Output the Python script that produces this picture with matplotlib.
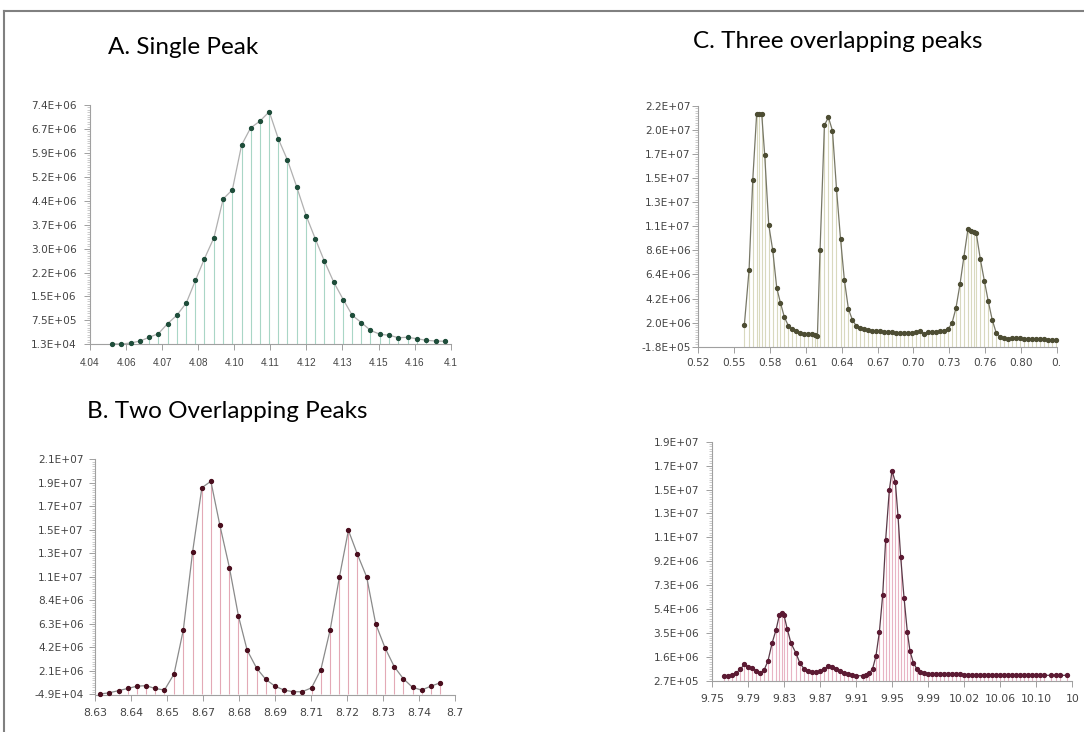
import matplotlib
matplotlib.use("Agg")
import matplotlib.pyplot as plt
from matplotlib.ticker import AutoMinorLocator
import numpy as np

W, H = 1084, 732

# ---- A. Single Peak ----
a_x = [4.0498, 4.0533, 4.0568, 4.0603, 4.0636, 4.0670, 4.0704, 4.0738, 4.0773, 4.0807,
       4.0840, 4.0875, 4.0909, 4.0943, 4.0977, 4.1010, 4.1045, 4.1079, 4.1113, 4.1146,
       4.1180, 4.1215, 4.1249, 4.1282, 4.1317, 4.1352, 4.1385, 4.1419, 4.1452, 4.1487,
       4.1522, 4.1555, 4.1589, 4.1623, 4.1658, 4.1693, 4.1726]
a_y = [0.032, 0.022, 0.053, 0.115, 0.229, 0.340, 0.649, 0.908, 1.288, 1.989,
       2.655, 3.304, 4.498, 4.785, 6.165, 6.690, 6.906, 7.193, 6.341, 5.702,
       4.878, 3.983, 3.264, 2.584, 1.927, 1.390, 0.908, 0.680, 0.445, 0.322,
       0.291, 0.217, 0.229, 0.186, 0.136, 0.115, 0.106]
a_xlab = ["4.04", "4.06", "4.07", "4.08", "4.10", "4.11", "4.12", "4.13", "4.15", "4.16", "4.1"]
a_ylab = ["1.3E+04", "7.5E+05", "1.5E+06", "2.2E+06", "3.0E+06", "3.7E+06",
          "4.4E+06", "5.2E+06", "5.9E+06", "6.7E+06", "7.4E+06"]

# ---- B. Two Overlapping Peaks ----
b_x = [8.6308, 8.6340, 8.6374, 8.6407, 8.6439, 8.6471, 8.6503, 8.6537, 8.6571, 8.6604,
       8.6637, 8.6670, 8.6702, 8.6734, 8.6768, 8.6800, 8.6831, 8.6865, 8.6897, 8.6930,
       8.6962, 8.6994, 8.7026, 8.7060, 8.7093, 8.7126, 8.7159, 8.7191, 8.7223, 8.7256,
       8.7288, 8.7321, 8.7354, 8.7386, 8.7419, 8.7451, 8.7484, 8.7517]
b_y = [0.0, 0.1, 0.3, 0.5, 0.7, 0.75, 0.5, 0.35, 1.80, 5.77,
       12.80, 18.59, 19.17, 15.20, 11.38, 7.03, 3.94, 2.31, 1.32, 0.7,
       0.35, 0.2, 0.2, 0.55, 2.19, 5.77, 10.54, 14.75, 12.59, 10.54,
       6.33, 4.17, 2.46, 1.38, 0.6, 0.35, 0.7, 1.0]
b_xlab = ["8.63", "8.64", "8.65", "8.67", "8.68", "8.69", "8.71", "8.72", "8.73", "8.74", "8.7"]
b_ylab = ["-4.9E+04", "2.1E+06", "4.2E+06", "6.3E+06", "8.4E+06", "1.1E+07",
          "1.3E+07", "1.5E+07", "1.7E+07", "1.9E+07", "2.1E+07"]

# ---- C. Three overlapping peaks ----
c_x = [0.5551, 0.5592, 0.5624, 0.5658, 0.5679, 0.5702, 0.5728, 0.5763, 0.5798, 0.5833,
       0.5865, 0.5899, 0.5934, 0.5966, 0.6001, 0.6036, 0.6071, 0.6106, 0.6141, 0.6170,
       0.6187, 0.6210, 0.6248, 0.6283, 0.6318, 0.6353, 0.6388, 0.6422, 0.6457, 0.6492,
       0.6524, 0.6559, 0.6594, 0.6629, 0.6663, 0.6698, 0.6733, 0.6768, 0.6803, 0.6838,
       0.6873, 0.6908, 0.6942, 0.6977, 0.7012, 0.7047, 0.7082, 0.7117, 0.7152, 0.7186,
       0.7221, 0.7256, 0.7291, 0.7323, 0.7358, 0.7393, 0.7428, 0.7462, 0.7497, 0.7523,
       0.7547, 0.7570, 0.7605, 0.7640, 0.7674, 0.7709, 0.7744, 0.7779, 0.7814, 0.7849,
       0.7884, 0.7918, 0.7953, 0.7988, 0.8023, 0.8058, 0.8093, 0.8128, 0.8162, 0.8197,
       0.8232, 0.8267]
c_y = [1.83, 6.83, 15.05, 21.09, 21.09, 21.09, 17.34, 10.97, 8.63, 5.18,
       3.84, 2.53, 1.74, 1.40, 1.22, 1.10, 1.01, 0.98, 0.95, 0.89,
       0.83, 8.66, 20.08, 20.78, 19.56, 14.26, 9.69, 5.88, 3.26, 2.26,
       1.74, 1.56, 1.47, 1.34, 1.28, 1.25, 1.22, 1.19, 1.16, 1.13,
       1.10, 1.10, 1.10, 1.10, 1.10, 1.13, 1.22, 1.01, 1.16, 1.19,
       1.19, 1.22, 1.28, 1.43, 1.95, 3.35, 5.52, 8.02, 10.54, 10.42,
       10.27, 10.18, 7.83, 5.85, 3.99, 2.26, 1.07, 0.73, 0.61, 0.55,
       0.61, 0.58, 0.58, 0.55, 0.55, 0.52, 0.52, 0.49, 0.52, 0.46,
       0.43, 0.43]
c_xlab = ["0.52", "0.55", "0.58", "0.61", "0.64", "0.67", "0.70", "0.73", "0.76", "0.80", "0."]
c_ylab = ["-1.8E+05", "2.0E+06", "4.2E+06", "6.4E+06", "8.6E+06", "1.1E+07",
          "1.3E+07", "1.5E+07", "1.7E+07", "2.0E+07", "2.2E+07"]

# ---- D. (no title) ----
d_x = [9.7645, 9.7689, 9.7732, 9.7775, 9.7819, 9.7862, 9.7905, 9.7949, 9.7992, 9.8032,
       9.8075, 9.8118, 9.8162, 9.8205, 9.8241, 9.8266, 9.8292, 9.8328, 9.8368, 9.8422,
       9.8465, 9.8508, 9.8555, 9.8599, 9.8642, 9.8685, 9.8729, 9.8772, 9.8815, 9.8859,
       9.8902, 9.8945, 9.8989, 9.9032, 9.9075, 9.9144, 9.9180, 9.9216, 9.9252, 9.9288,
       9.9325, 9.9361, 9.9393, 9.9433, 9.9462, 9.9498, 9.9527, 9.9556, 9.9592, 9.9628,
       9.9657, 9.9693, 9.9729, 9.9765, 9.9808, 9.9852, 9.9895, 9.9938, 9.9982, 10.0025,
       10.0068, 10.0112, 10.0155, 10.0198, 10.0242, 10.0285, 10.0328, 10.0372, 10.0415, 10.0458,
       10.0502, 10.0545, 10.0588, 10.0631, 10.0675, 10.0718, 10.0761, 10.0805, 10.0848, 10.0891,
       10.0935, 10.0978, 10.1021, 10.1065, 10.1108, 10.1184, 10.1239, 10.1282, 10.1362]
d_y = [0.15, 0.15, 0.23, 0.39, 0.66, 1.05, 0.82, 0.74, 0.55, 0.37,
       0.58, 1.32, 2.72, 3.78, 4.94, 5.16, 4.94, 3.83, 2.72, 1.93,
       1.13, 0.71, 0.52, 0.44, 0.42, 0.50, 0.68, 0.92, 0.87, 0.71,
       0.50, 0.37, 0.29, 0.21, 0.15, 0.15, 0.18, 0.34, 0.71, 1.72,
       3.62, 6.56, 10.93, 14.90, 16.43, 15.53, 12.80, 9.55, 6.35, 3.62,
       2.09, 1.19, 0.71, 0.44, 0.34, 0.31, 0.31, 0.29, 0.29, 0.29,
       0.26, 0.26, 0.26, 0.26, 0.23, 0.23, 0.23, 0.23, 0.23, 0.21,
       0.21, 0.21, 0.21, 0.21, 0.21, 0.21, 0.18, 0.18, 0.18, 0.18,
       0.18, 0.18, 0.18, 0.18, 0.18, 0.18, 0.18, 0.18, 0.18]
d_xlab = ["9.75", "9.79", "9.83", "9.87", "9.91", "9.95", "9.99", "10.02", "10.06", "10.10", "10"]
d_ylab = ["2.7E+05", "1.6E+06", "3.5E+06", "5.4E+06", "7.3E+06", "9.2E+06",
          "1.1E+07", "1.3E+07", "1.5E+07", "1.7E+07", "1.9E+07"]

fig = plt.figure(figsize=(W / 100, H / 100), dpi=100)
fig.patch.set_facecolor("white")


def panel(box, x, y, xlim, ylim, xlab, ylab, stem_c, line_c, mark_c,
          xfont, xfs, ypad, xpad):
    l, t, r, b = box
    ax = fig.add_axes([l / W, 1 - b / H, (r - l) / W, (b - t) / H])
    yv = np.array(y) * 1e6
    ax.vlines(x, ylim[0], yv, colors=stem_c, lw=0.8, zorder=1)
    ax.plot(x, yv, color=line_c, lw=0.9, zorder=2)
    ax.plot(x, yv, "o", ms=2.8, color=mark_c, mec=mark_c, zorder=3, clip_on=False)
    ax.set_xlim(xlim)
    ax.set_ylim(ylim)
    ax.set_xticks(np.linspace(xlim[0], xlim[1], 11))
    ax.set_xticklabels(xlab, fontsize=xfs, family=xfont, color="#444444")
    ax.set_yticks(np.linspace(ylim[0], ylim[1], 11))
    ax.set_yticklabels(ylab, fontsize=7.6, family="DejaVu Sans", color="#444444")
    ax.yaxis.set_minor_locator(AutoMinorLocator(10))
    for s in ["top", "right"]:
        ax.spines[s].set_visible(False)
    for s in ["left", "bottom"]:
        ax.spines[s].set_color("#a0a0a0")
        ax.spines[s].set_linewidth(0.8)
    ax.tick_params(axis="y", which="major", length=4, width=0.7, color="#a0a0a0", pad=ypad)
    ax.tick_params(axis="y", which="minor", length=2, width=0.5, color="#b8b8b8")
    ax.tick_params(axis="x", which="major", length=4, width=0.7, color="#a0a0a0", pad=xpad)
    ax.patch.set_alpha(0)
    return ax


panel((90, 105, 450.7, 344.3), a_x, a_y, (4.0418, 4.1748), (1.3e4, 7.4e6),
      a_xlab, a_ylab, "#a9d6c6", "#b0b0b0", "#1e4d3a", "Liberation Sans", 7.2, 5.5, 6)
panel((95, 459.3, 455, 694.5), b_x, b_y, (8.629, 8.757), (-4.9e4, 2.1151e7),
      b_xlab, b_ylab, "#e3a9b6", "#8a8a8a", "#4a0e1e", "Liberation Sans Narrow", 7.8, 4.3, 6)
panel((698.3, 106, 1056.7, 346.7), c_x, c_y, (0.515, 0.827), (-1.8e5, 2.182e7),
      c_xlab, c_ylab, "#d9d9bf", "#777766", "#4d4d33", "DejaVu Sans", 7.6, 1.5, 4)
panel((712.3, 441.7, 1072.3, 681), d_x, d_y, (9.7515, 10.1415), (-2.7e5, 1.873e7),
      d_xlab, d_ylab, "#e8b4c4", "#5a3a48", "#5c1a33", "Liberation Sans Narrow", 7.8, 5.5, 5)

tfont = ["Lato", "DejaVu Sans"]
fig.text(108 / W, 1 - 47 / H, "A. Single Peak", fontsize=17.5, family=tfont, va="center")
fig.text(693 / W, 1 - 42 / H, "C. Three overlapping peaks", fontsize=17.5, family=tfont, va="center")
fig.text(87 / W, 1 - 412 / H, "B. Two Overlapping Peaks", fontsize=17.5, family=tfont, va="center")

# slide frame
fig.add_artist(plt.Line2D([4 / W, 1], [1 - 11 / H, 1 - 11 / H], color="#808080", lw=1.5))
fig.add_artist(plt.Line2D([4 / W, 4 / W], [0, 1 - 11 / H], color="#808080", lw=1.5))

fig.savefig("out.png", dpi=100)
